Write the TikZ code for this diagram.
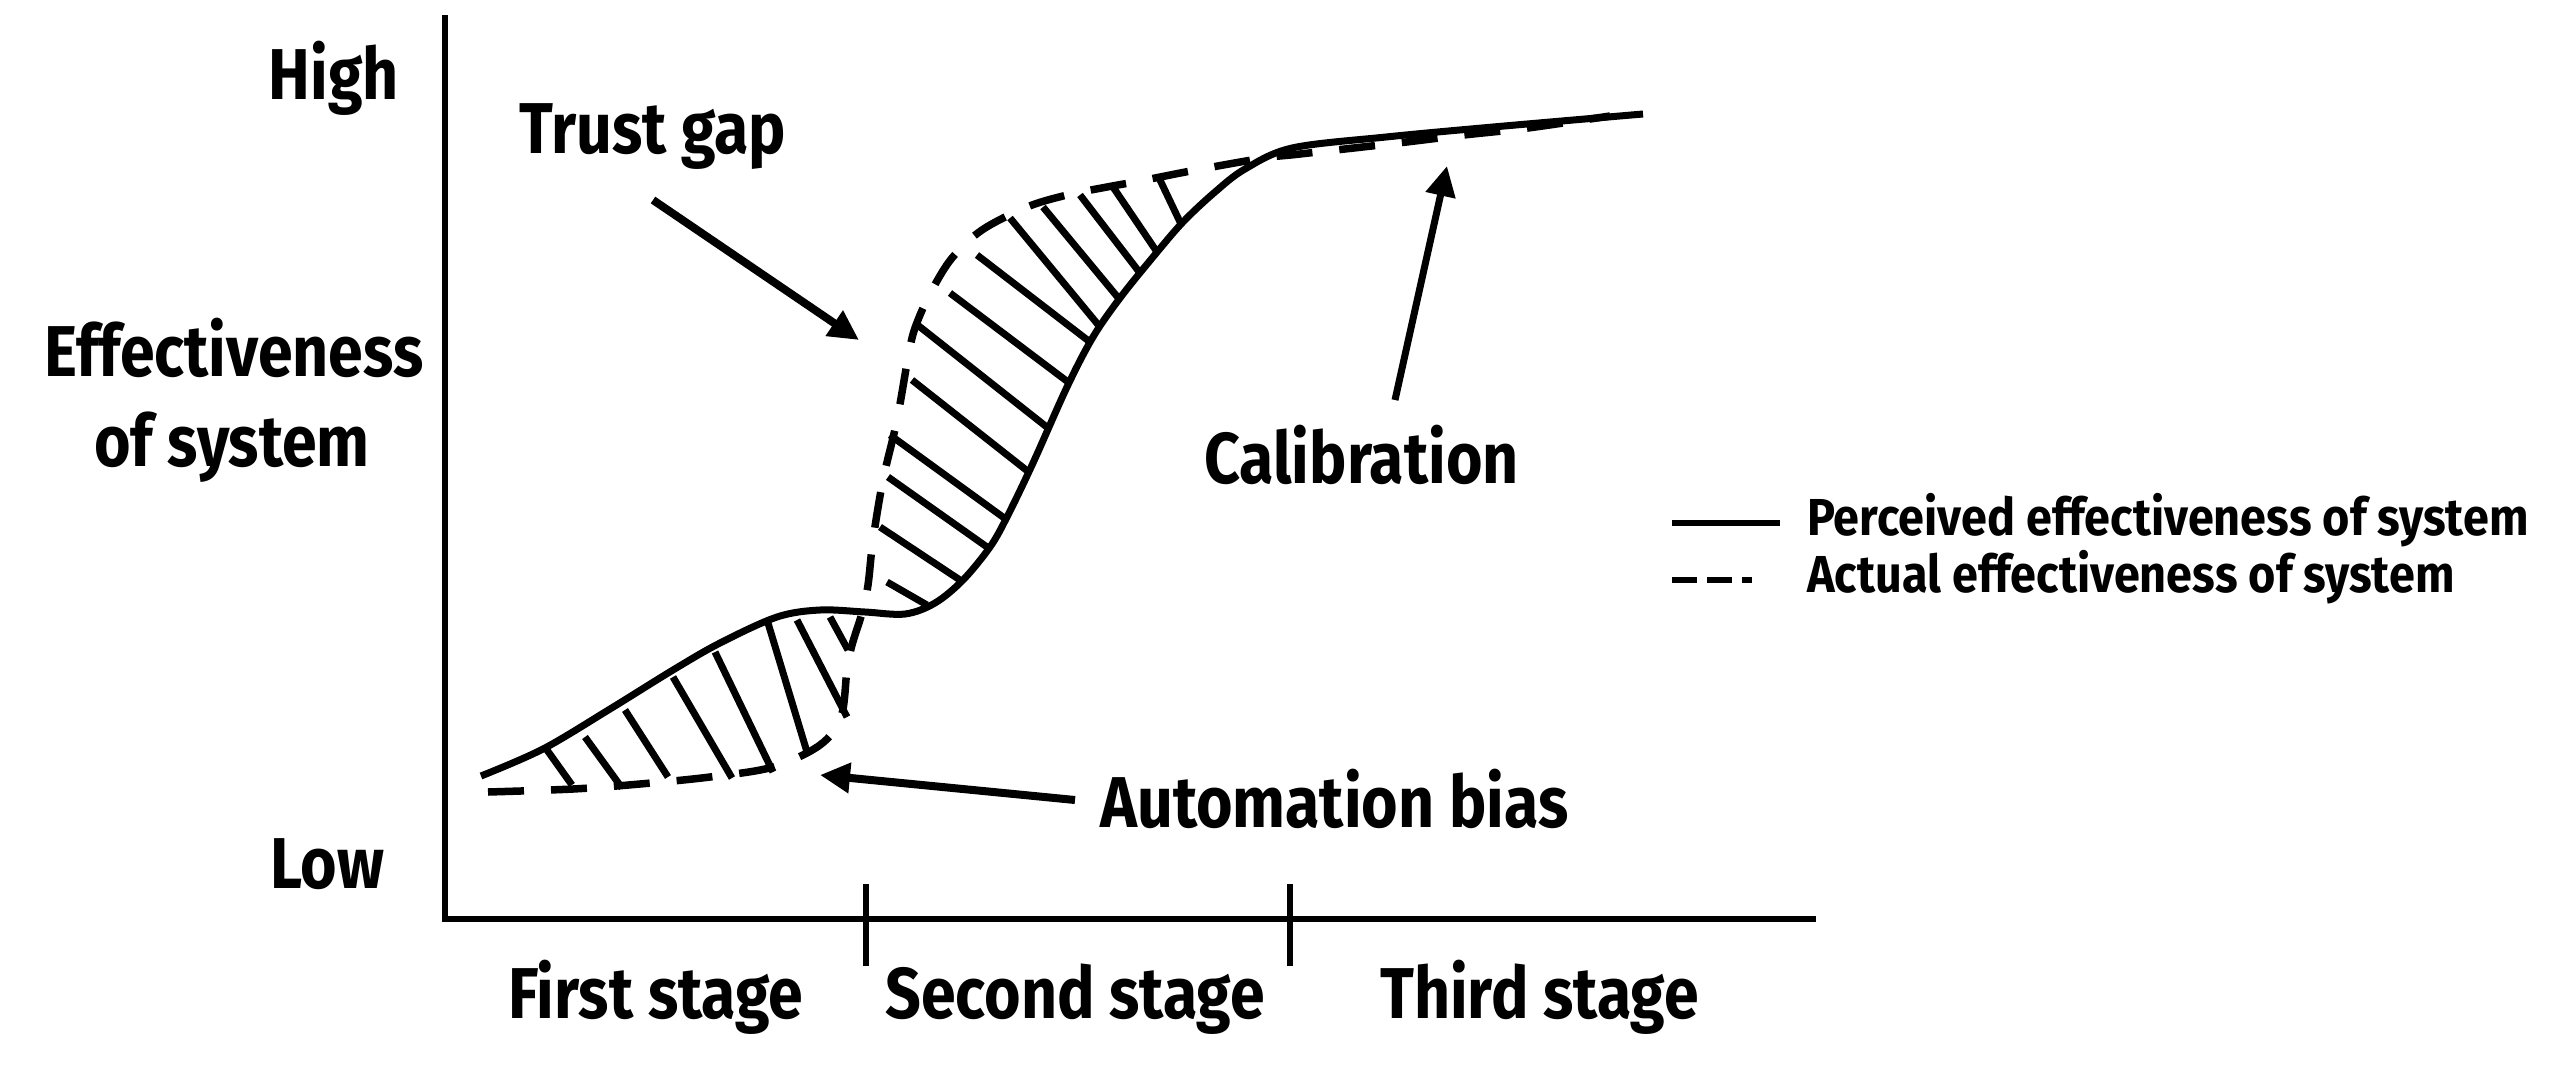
\documentclass[tikz,border=0pt]{standalone}
\usepackage{fontspec}
\newfontfamily\labfont{Fira Sans}[FakeStretch=0.87]
\newfontfamily\legfont{Fira Sans}[FakeStretch=0.9]
\usetikzlibrary{arrows.meta}
\tikzset{
  lab/.style={inner sep=0pt, anchor=base west, font=\labfont\bfseries\fontsize{72}{80}\selectfont},
  leg/.style={inner sep=0pt, anchor=base west, font=\legfont\bfseries\fontsize{52}{58}\selectfont},
  axisline/.style={line width=5.5pt, line cap=rect},
  perceived/.style={line width=7pt},
  actual/.style={line width=7.5pt, dash pattern=on 36pt off 27pt},
  hatchline/.style={line width=7pt},
  callout/.style={line width=8pt, -{Triangle[length=30pt,width=29pt]}},
}
\begin{document}
\begin{tikzpicture}[x=1pt,y=-1pt]
\useasboundingbox (0,0) rectangle (2560,1082);
% axes
\coordinate (top) at (445,18);
\coordinate (origin) at (445,919);
\coordinate (xend) at (1813,919);
\draw[axisline] (top) -- (origin) -- (xend);
\coordinate (t1a) at (866,884); \coordinate (t1b) at (866,966);
\coordinate (t2a) at (1290,884); \coordinate (t2b) at (1290,966);
\draw[axisline, line cap=butt] (t1a) -- (t1b);
\draw[axisline, line cap=butt] (t2a) -- (t2b);
% labels
\node[lab, anchor=base east] (high) at (399,99) {High};
\node[lab, anchor=base] (eff1) at (234,376) {Effectiveness};
\node[lab, anchor=base] (eff2) at (232,466) {of system};
\node[lab] (low) at (270,888) {Low};
\node[lab] (s1) at (508,1018) {First stage};
\node[lab] (s2) at (885,1018) {Second stage};
\node[lab] (s3) at (1380,1018) {Third stage};
\node[lab] (trust) at (519,153) {Trust\ gap};
\node[lab] (calib) at (1204,483) {Calibration};
\node[lab] (auto) at (1100,827) {Automation bias};
% perceived curve
\draw[perceived] plot[smooth, tension=0.55] coordinates {
 (481,776) (543,749) (610,709) (673,670) (720,643) (777,617) (820,610)
 (865,612) (905,614) (935,603) (963,580) (990,547) (1007,517) (1033,463)
 (1067,387) (1093,337) (1120,298) (1153,257) (1183,222) (1215,192)
 (1245,169) (1292,148) (1386,137) (1493,127) (1643,114)};
% actual curve
\draw[actual] plot[smooth, tension=0.55] coordinates {
 (488,792) (573,789) (640,784) (710,777) (773,767) (820,745) (841,717)
 (847,670) (852,645) (862,613) (868,585) (873,540) (883,480) (897,420)
 (910,347) (918,320) (932,290) (952,258) (982,230) (1027,207) (1067,195)
 (1107,187) (1140,181) (1196,170) (1264,158) (1300,154) (1398,143)
 (1464,135) (1528,128) (1610,116)};
% hatching, first stage
\foreach \a/\b/\c/\d in {547/750/572/785, 585/737/622/788, 625/710/668/777,
  673/677/732/778, 715/652/773/772, 768/623/807/752, 797/620/847/717, 830/617/848/650}
  \draw[hatchline] (\a,\b) -- (\c,\d);
% hatching, second stage
\foreach \a/\b/\c/\d in {887/582/927/605, 880/527/963/582, 888/477/987/547,
  890/435/1007/520, 912/380/1030/473, 915/323/1048/428, 950/293/1068/382,
  977/255/1090/342, 1010/218/1100/327, 1043/207/1120/300, 1080/195/1140/273,
  1113/187/1157/252, 1160/180/1180/222}
  \draw[hatchline] (\a,\b) -- (\c,\d);
% callouts
\coordinate (tgS) at (653,200); \coordinate (tgE) at (859,340);
\draw[callout] (tgS) -- (tgE);
\coordinate (abS) at (1075,800); \coordinate (abE) at (820,775);
\draw[callout] (abS) -- (abE);
\coordinate (caS) at (1395,400); \coordinate (caE) at (1447,166);
\draw[callout, line width=7pt] (caS) -- (caE);
% legend
\coordinate (l1a) at (1672,523); \coordinate (l1b) at (1780,523);
\draw[line width=5.5pt] (l1a) -- (l1b);
\coordinate (l2a) at (1672,580); \coordinate (l2b) at (1752,580);
\draw[line width=5.5pt, dash pattern=on 25pt off 10pt on 25pt off 10pt on 10pt off 10pt] (l2a) -- (l2b);
\node[leg] (leg1) at (1807,535) {Perceived effectiveness of system};
\node[leg] (leg2) at (1807,592) {Actual effectiveness of system};
\end{tikzpicture}
\end{document}
